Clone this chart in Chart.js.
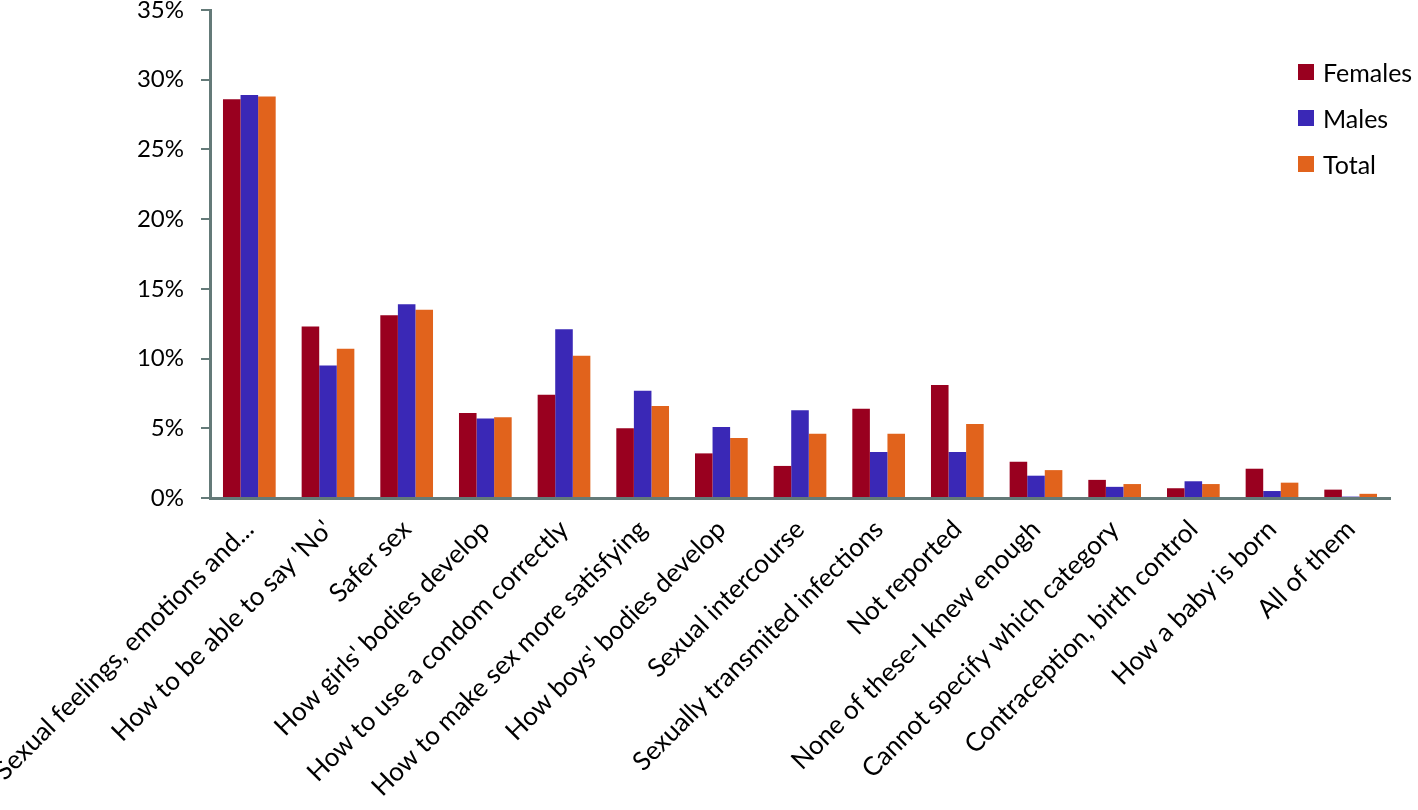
<!DOCTYPE html>
<html>
<head>
<meta charset="utf-8">
<script src="https://cdn.jsdelivr.net/npm/chart.js@4/dist/chart.umd.min.js"></script>
<style>
    html, body { margin: 0; padding: 0; background: #fff; }
    #wrap { position: relative; width: 1418px; height: 810px; }
    #legend { position: absolute; left: 1298px; top: 49px; font-family: Lato, sans-serif; font-size: 25px; color: #000; }
    #legend div { display: flex; align-items: center; height: 46px; }
    #legend span.box { display: inline-block; width: 16px; height: 16px; margin-right: 9px; }
</style>
</head>
<body>
<div id="wrap">
    <canvas id="chart" width="1418" height="810"></canvas>
    <div id="legend"></div>
</div>
<script>
const categories = [
    "Sexual feelings, emotions and...",
    "How to be able to say 'No'",
    "Safer sex",
    "How girls' bodies develop",
    "How to use a condom correctly",
    "How to make sex more satisfying",
    "How boys' bodies develop",
    "Sexual intercourse",
    "Sexually transmited infections",
    "Not reported",
    "None of these-I knew enough",
    "Cannot specify which category",
    "Contraception, birth control",
    "How a baby is born",
    "All of them"
];
const females = [28.6, 12.3, 13.1, 6.1, 7.4, 5.0, 3.2, 2.3, 6.4, 8.1, 2.6, 1.3, 0.7, 2.1, 0.6];
const males   = [28.9, 9.5, 13.9, 5.7, 12.1, 7.7, 5.1, 6.3, 3.3, 3.3, 1.6, 0.8, 1.2, 0.5, 0.1];
const total   = [28.8, 10.7, 13.5, 5.8, 10.2, 6.6, 4.3, 4.6, 4.6, 5.3, 2.0, 1.0, 1.0, 1.1, 0.3];
const yTicks  = [0, 5, 10, 15, 20, 25, 30, 35];

const seriesNames  = ["Females", "Males", "Total"];
const seriesColors = ["#99001f", "#3a28b6", "#e1631c"];

document.addEventListener('DOMContentLoaded', function() {
    const ctx = document.getElementById('chart').getContext('2d');
    const axisColor = '#647a78';

    const datasets = [females, males, total].map((values, i) => ({
        label: seriesNames[i],
        data: values,
        backgroundColor: seriesColors[i],
        borderWidth: 0,
        categoryPercentage: 0.67,
        barPercentage: 1.0
    }));

    new Chart(ctx, {
        type: 'bar',
        data: { labels: categories, datasets: datasets },
        options: {
            responsive: false,
            animation: false,
            layout: { padding: { top: 0, right: 28, left: 0, bottom: 0 } },
            plugins: {
                legend: { display: false },
                tooltip: { enabled: false }
            },
            scales: {
                x: {
                    grid: { display: false },
                    border: { color: axisColor, width: 3 },
                    ticks: {
                        color: '#000',
                        font: { family: 'Lato', size: 26 },
                        maxRotation: 45,
                        minRotation: 45,
                        autoSkip: false,
                        padding: 8
                    },
                    // alto fijo del eje para que la base quede donde en el original
                    afterFit: axis => {
                        axis.height = 312;
                        axis.paddingLeft = 0;
                        axis.paddingRight = 0;
                    }
                },
                y: {
                    min: 0,
                    max: 35,
                    afterBuildTicks: axis => { axis.ticks = yTicks.map(v => ({ value: v })); },
                    afterFit: axis => {
                        axis.width = 210;
                        axis.paddingTop = 10;
                    },
                    grid: { drawOnChartArea: false, drawTicks: true, tickLength: 9, color: axisColor, lineWidth: 2 },
                    border: { color: axisColor, width: 3 },
                    ticks: {
                        color: '#000',
                        font: { family: 'Lato', size: 24 },
                        padding: 17,
                        callback: v => v + '%'
                    }
                }
            }
        }
    });

    // legenda a mano, encima del área del gráfico
    const legend = document.getElementById('legend');
    seriesNames.forEach((name, i) => {
        const row = document.createElement('div');
        row.innerHTML = `<span class="box" style="background:${seriesColors[i]}"></span>${name}`;
        legend.appendChild(row);
    });
});
</script>
</body>
</html>
